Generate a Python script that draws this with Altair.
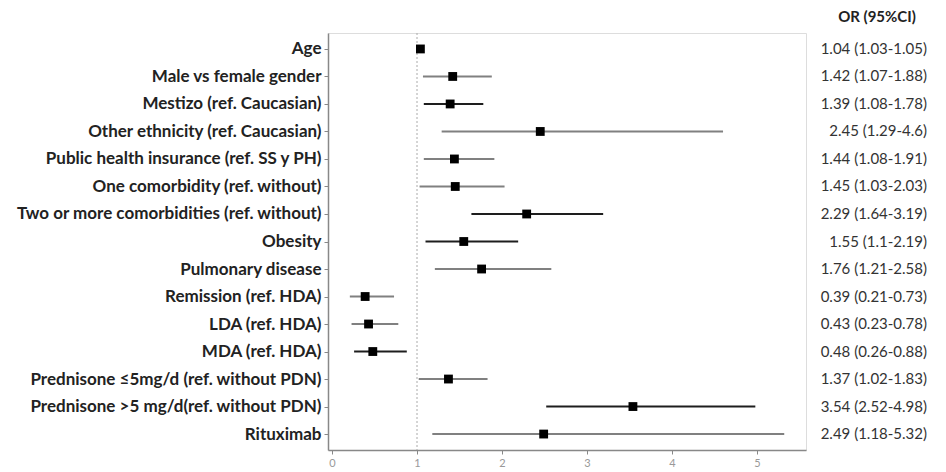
import altair as alt
import pandas as pd

labels = [
    "Age",
    "Male vs female gender",
    "Mestizo (ref. Caucasian)",
    "Other ethnicity (ref. Caucasian)",
    "Public health insurance (ref. SS y PH)",
    "One comorbidity (ref. without)",
    "Two or more comorbidities (ref. without)",
    "Obesity",
    "Pulmonary disease",
    "Remission (ref. HDA)",
    "LDA (ref. HDA)",
    "MDA (ref. HDA)",
    "Prednisone ≤5mg/d (ref. without PDN)",
    "Prednisone >5 mg/d(ref. without PDN)",
    "Rituximab",
]
odds = [1.04, 1.42, 1.39, 2.45, 1.44, 1.45, 2.29, 1.55, 1.76, 0.39, 0.43, 0.48, 1.37, 3.54, 2.49]
lower = [1.03, 1.07, 1.08, 1.29, 1.08, 1.03, 1.64, 1.1, 1.21, 0.21, 0.23, 0.26, 1.02, 2.52, 1.18]
upper = [1.05, 1.88, 1.78, 4.6, 1.91, 2.03, 3.19, 2.19, 2.58, 0.73, 0.78, 0.88, 1.83, 4.98, 5.32]
ci_text = [
    "1.04 (1.03-1.05)", "1.42 (1.07-1.88)", "1.39 (1.08-1.78)", "2.45 (1.29-4.6)",
    "1.44 (1.08-1.91)", "1.45 (1.03-2.03)", "2.29 (1.64-3.19)", "1.55 (1.1-2.19)",
    "1.76 (1.21-2.58)", "0.39 (0.21-0.73)", "0.43 (0.23-0.78)", "0.48 (0.26-0.88)",
    "1.37 (1.02-1.83)", "3.54 (2.52-4.98)", "2.49 (1.18-5.32)",
]
line_tone = ["gray", "gray", "dark", "gray", "gray", "gray", "dark", "dark",
             "gray", "gray", "gray", "dark", "gray", "dark", "gray"]
x_ticks = [0, 1, 2, 3, 4, 5]
ref_value = [1]
header = ["OR (95%CI)"]

df = pd.DataFrame({
    "label": labels, "or": odds, "lo": lower, "hi": upper,
    "txt": ci_text, "tone": line_tone,
})

FONT = "Lato"
xscale = alt.Scale(domain=[-0.047, 5.576], nice=False, zero=False)
yscale = alt.Scale(type="point", domain=labels, padding=0.58)

y_enc = alt.Y("label:N", scale=yscale, sort=labels, title=None,
              axis=alt.Axis(labelFont=FONT, labelFontSize=17, labelFontWeight="bold",
                            labelColor="#222222", tickSize=4, tickColor="#888888",
                            domainColor="#888888", domainWidth=1.5, labelPadding=3,
                            labelLimit=400))

base = alt.Chart(df)

ref = alt.Chart(pd.DataFrame({"v": ref_value})).mark_rule(
    color="#aaaaaa", strokeDash=[2, 2], strokeWidth=1
).encode(x=alt.X("v:Q", scale=xscale))

rules = base.mark_rule(strokeWidth=2).encode(
    x=alt.X("lo:Q", scale=xscale, title=None,
            axis=alt.Axis(values=x_ticks, format="d", labelFont=FONT, labelFontSize=11,
                          labelColor="#999999", tickSize=4, tickColor="#888888",
                          domainColor="#888888", domainWidth=1.5, grid=False,
                          labelPadding=3)),
    x2="hi:Q",
    y=y_enc,
    color=alt.Color("tone:N", scale=alt.Scale(domain=["dark", "gray"],
                                              range=["#1e1e1e", "#808080"]), legend=None),
)

points = base.mark_point(shape="square", filled=True, color="#000000", size=78, opacity=1).encode(
    x=alt.X("or:Q", scale=xscale),
    y=alt.Y("label:N", scale=yscale, sort=labels),
)

texts = base.mark_text(align="right", baseline="middle", font=FONT, fontSize=15,
                       color="#333333").encode(
    x=alt.value(599),
    y=alt.Y("label:N", scale=yscale, sort=labels),
    text="txt:N",
)

head = alt.Chart(pd.DataFrame({"h": header})).mark_text(
    align="center", baseline="middle", font=FONT, fontSize=15, fontWeight="bold",
    color="#222222"
).encode(x=alt.value(549), y=alt.value(-16), text="h:N")

chart = alt.layer(ref, rules, points, texts, head).properties(
    width=478, height=417,
    autosize=alt.AutoSizeParams(type="none"),
    padding={"left": 328, "top": 33, "right": 140, "bottom": 22},
).configure_view(stroke=None).configure(background="white")

chart.save("out.html", embed_options={"renderer": "svg", "actions": False})
